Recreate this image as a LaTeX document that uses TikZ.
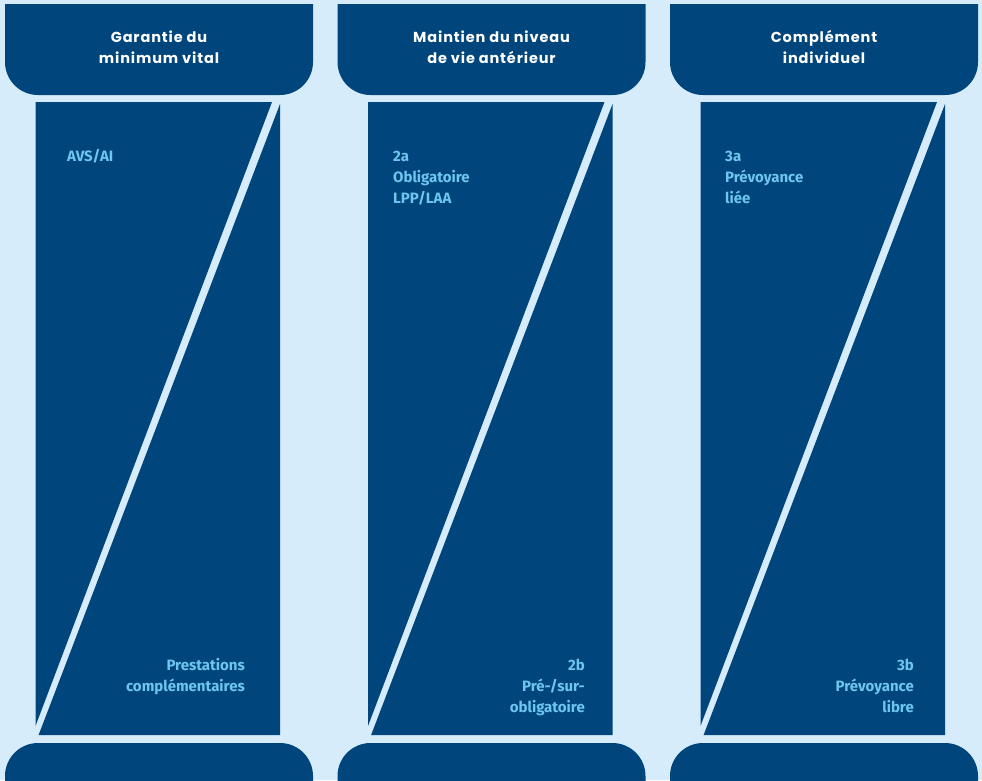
\documentclass[tikz,border=0pt]{standalone}
\usepackage{fontspec}
\newfontfamily\headfont{Poppins}[LetterSpace=6]
\newfontfamily\labfont{Fira Sans}
\definecolor{dark}{RGB}{0,70,125}
\definecolor{bgblue}{RGB}{214,236,250}
\definecolor{lab}{RGB}{110,197,238}
\tikzset{
  head/.style={text=white, align=center, inner sep=0pt, font=\headfont\bfseries\fontsize{14.5}{21}\selectfont},
  labl/.style={text=lab, align=left, text width=180pt, inner sep=0pt, anchor=base west, font=\labfont\bfseries\fontsize{15}{21}\selectfont},
  labr/.style={text=lab, align=right, text width=180pt, inner sep=0pt, anchor=base east, font=\labfont\bfseries\fontsize{15}{21}\selectfont},
}
\begin{document}
\begin{tikzpicture}[x=1pt,y=-1pt]
\useasboundingbox (0,0) rectangle (982,780);
\fill[bgblue] (0,0) rectangle (982,780);
% header tabs
\begin{scope}
\clip (0,4) rectangle (982,780);
\foreach \H in {5,337.5,670}
  \fill[dark, rounded corners=33pt] (\H,-60) rectangle ++(308,155);
\end{scope}
% bottom tabs
\foreach \H in {5,337.5,670}
  \fill[dark, rounded corners=33pt] (\H,743) rectangle ++(308,90);
% panels split by a diagonal stripe
\foreach \L in {35.5,368,700.5}{
  \fill[dark] (\L,102) -- ({\L+236.5},102) -- (\L,726) -- cycle;
  \fill[dark] ({\L+244.5},104) -- ({\L+244.5},735) -- ({\L+3.1},735) -- cycle;
}
% header texts
\node[head] (h1) at (159,47.5) {Garantie du\\minimum vital};
\node[head] (h2) at (491.5,47.5) {Maintien du niveau\\de vie antérieur};
\node[head] (h3) at (824,47.5) {Complément\\individuel};
% panel labels
\node[labl] (a1) at (67,161) {AVS/AI};
\node[labr] (b1) at (245,670) {Prestations\\complémentaires};
\node[labl] (a2) at (393,161) {2a\\Obligatoire\\LPP/LAA};
\node[labr] (b2) at (585,670) {2b\\Pré-/sur-\\obligatoire};
\node[labl] (a3) at (725,161) {3a\\Prévoyance\\liée};
\node[labr] (b3) at (914,670) {3b\\Prévoyance\\libre};
\end{tikzpicture}
\end{document}
